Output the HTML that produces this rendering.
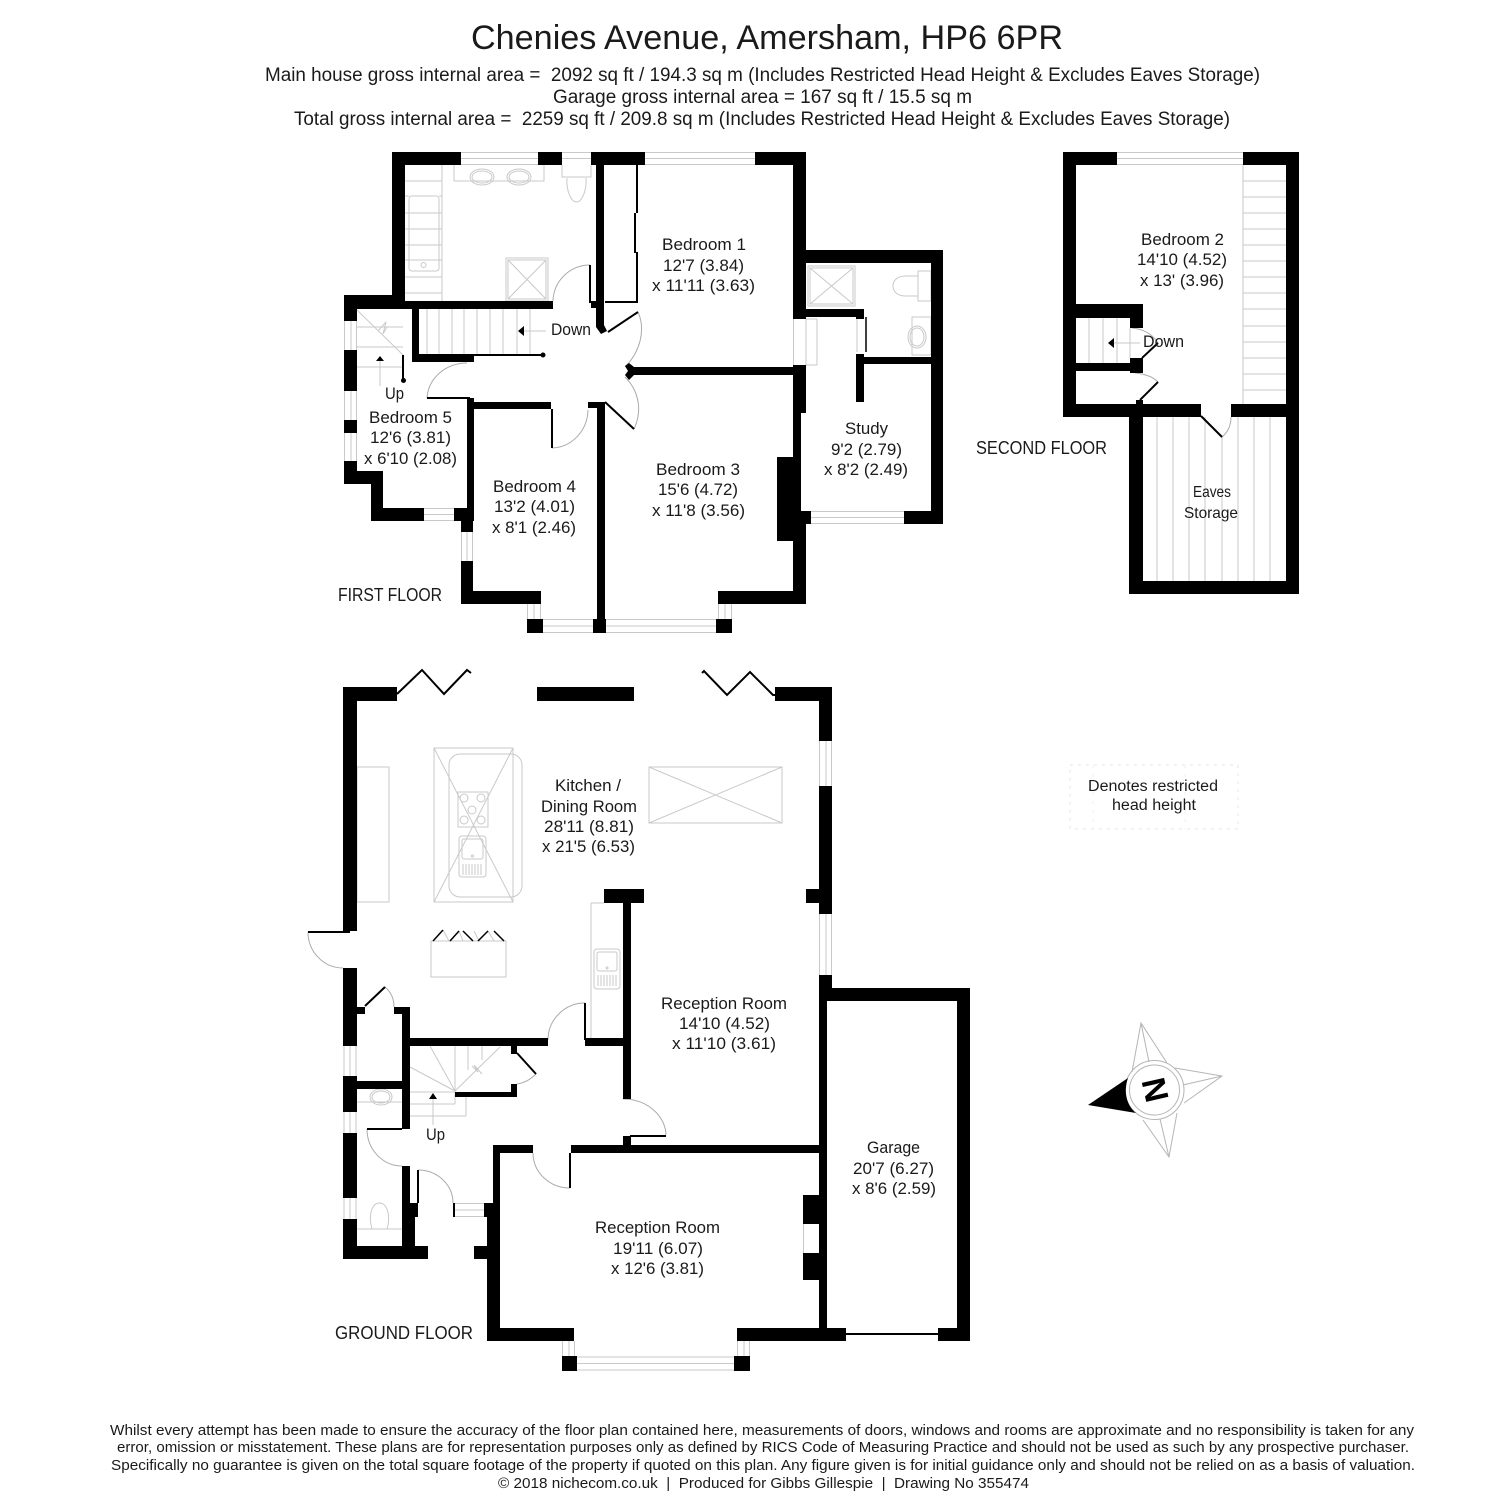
<!DOCTYPE html>
<html lang="en"><head><meta charset="utf-8"><title>Chenies Avenue, Amersham, HP6 6PR</title>
<style>
html,body{margin:0;padding:0;background:#fff}
svg{display:block}
text{font-family:"Liberation Sans",sans-serif;fill:#1a1a1a;text-anchor:middle;font-size:16.5px}
.f{fill:none;stroke:#c9c9c9;stroke-width:1}
.a{fill:none;stroke:#ababab;stroke-width:1}
.l{fill:none;stroke:#000;stroke-width:2}
</style></head><body>
<svg xmlns="http://www.w3.org/2000/svg" width="1500" height="1500" viewBox="0 0 1500 1500">
<rect width="1500" height="1500" fill="#fff"/>

<!-- Header -->
<text x="767" y="49" style="font-size:34px" textLength="592" lengthAdjust="spacingAndGlyphs">Chenies Avenue, Amersham, HP6 6PR</text>
<text x="762.5" y="81" style="font-size:19px" textLength="995" lengthAdjust="spacingAndGlyphs">Main house gross internal area =&#160; 2092 sq ft / 194.3 sq m (Includes Restricted Head Height &amp; Excludes Eaves Storage)</text>
<text x="762.5" y="103" style="font-size:19px" textLength="419" lengthAdjust="spacingAndGlyphs">Garage gross internal area = 167 sq ft / 15.5 sq m</text>
<text x="762" y="125" style="font-size:19px" textLength="936" lengthAdjust="spacingAndGlyphs">Total gross internal area =&#160; 2259 sq ft / 209.8 sq m (Includes Restricted Head Height &amp; Excludes Eaves Storage)</text>

<!-- Light fixture / window lines -->
<g class="f">
<!-- First floor windows -->
<path d="M461 152.500H538M461 158.500H538M461 164.500H538M562 152.500H591M562 158.500H591M645 152.500H755M645 158.500H755M645 164.500H755"/>
<path d="M344.500 321V350M351 321V350M356.500 321V350M344.500 391V420M351 391V420M356.500 391V420M344.500 433V461M351 433V461M356.500 433V461"/>
<path d="M424 508.500H454M424 514.500H454M424 520.500H454M461.500 532V561M467 532V561M472.500 532V561"/>
<path d="M527.500 604V619M534 604V619M540.500 604V619M543 619.500H593M543 626H593M543 632.500H593"/>
<path d="M606 619.500H716M606 626H716M606 632.500H716M718.500 604V619M725 604V619M731.500 604V619"/>
<path d="M811 511.500H904M811 517.500H904M811 523.500H904"/>
<path d="M793.500 319V365M806 319V365M817 319V365M806 319H817M806 365H817M857 319V352"/>
<!-- Bathroom -->
<path d="M454 165V181H544V165M562 165V177H591V165"/>
<ellipse cx="482" cy="177" rx="12" ry="8"/><ellipse cx="482" cy="177" rx="10" ry="6"/>
<ellipse cx="519" cy="177" rx="12" ry="8"/><ellipse cx="519" cy="177" rx="10" ry="6"/>
<path d="M567 178C566 190 571 202 576.500 202C582 202 587 190 586 178"/>
<path d="M442 165V301M405 181H442M405 196H409M439 196H442M405 213H442M405 229H442M405 245H442M405 260H442M405 277H442M405 293H442"/>
<rect x="409" y="196" width="30" height="75" rx="3"/><circle cx="423.500" cy="265" r="2.500"/>
<rect x="506" y="258" width="42" height="43"/><rect x="508" y="260" width="38" height="39"/>
<path d="M508 260L546 299M546 260L508 299"/>
<!-- First floor stairs -->
<path d="M427 309V354M439 309V354M452 309V354M464 309V354M477 309V354M490 309V354M503 309V354M517 309V354M530 309V354M524 331H546"/>
<path d="M357 310L403 355M357 327H403M357 347H403M357 367H403M380 361V386"/>
<path d="M378 331L386 322L383 334L387 327" />
<!-- En-suite -->
<rect x="808" y="266" width="47" height="40"/><rect x="810" y="268" width="43" height="36"/><path d="M810 268L853 304M853 268L810 304"/>
<rect x="918" y="271" width="13" height="30"/><path d="M918 276H905C897 276 893 281 893 286C893 291 897 296 905 296H918"/>
<rect x="912" y="317" width="19" height="38"/><ellipse cx="917" cy="337" rx="9" ry="11"/><ellipse cx="917" cy="337" rx="7" ry="9"/>
<!-- Second floor -->
<path d="M1117 152.500H1243M1117 158.500H1243M1117 164.500H1243"/>
<path d="M1243 165V404M1243 181H1286M1243 197H1286M1243 213H1286M1243 229H1286M1243 245H1286M1243 261H1286M1243 277H1286M1243 293H1286M1243 309H1286M1243 326H1286M1243 342H1286M1243 358H1286M1243 374H1286M1243 390H1286"/>
<path d="M1157 417V581M1173 417V581M1189 417V581M1205 417V581M1222 437V581M1238 417V581M1254 417V581M1270 417V581"/>
<path d="M1089 318V363M1103 318V363M1117 318V363M1130 328V358M1114 343H1140"/>
<!-- Ground floor windows -->
<path d="M819.500 741V786M826 741V786M831.500 741V786M819.500 914V975M826 914V975M831.500 914V975"/>
<path d="M344 1046V1076M350 1046V1076M356 1046V1076M344 1112V1133M350 1112V1133M356 1112V1133M344 1198V1219M350 1198V1219M356 1198V1219"/>
<path d="M455 1203.500H484M455 1210H484M455 1216.500H484"/>
<path d="M562.500 1341V1356M569 1341V1356M574.500 1341V1356M737.500 1341V1356M744 1341V1356M749.500 1341V1356"/>
<path d="M577 1357H734M577 1363.500H734M577 1370H734M803.500 1224V1253"/>
<!-- Kitchen -->
<rect x="357" y="767" width="32" height="135"/>
<rect x="434" y="748" width="79" height="154"/><path d="M434 748L513 902M513 748L434 902"/>
<rect x="449" y="754" width="73" height="143" rx="11"/>
<rect x="458" y="792" width="30" height="35"/>
<circle cx="464" cy="798" r="4"/><circle cx="481" cy="798" r="4"/><circle cx="472" cy="810" r="4"/><circle cx="464" cy="820" r="4"/><circle cx="481" cy="820" r="4"/>
<rect x="459" y="836" width="27" height="41" rx="3"/><rect x="462" y="839" width="21" height="20" rx="2"/><circle cx="472.500" cy="856" r="1"/><path d="M463 864V875M466 864V875M469 864V875M472 864V875M475 864V875M478 864V875M481 864V875"/>
<rect x="431" y="941" width="75" height="36"/>
<path d="M443 930L449 941M459 931L463 941M474 931L479 941M488 931L494 941"/>
<rect x="649" y="767" width="133" height="56"/><path d="M649 767L782 823M782 767L649 823"/>
<path d="M591 903V1038M591 903H604"/>
<rect x="594" y="949" width="26" height="40" rx="3"/><rect x="597" y="952" width="20" height="19" rx="2"/><circle cx="607" cy="968" r="1"/><path d="M598 975V986M601 975V986M604 975V986M607 975V986M610 975V986M613 975V986M616 975V986"/>
<!-- Ground floor stairs -->
<path d="M455 1091L430 1046M455 1091L410 1067M455 1091L500 1047M468 1046V1070M482 1046V1060M455 1046V1104M410 1092H455M410 1104H455M410 1116H466M466 1097V1116M433 1099V1125"/>
<path d="M472 1066L478 1072L474 1065L482 1074"/>
<path d="M357 1102H402"/><ellipse cx="381" cy="1097" rx="11" ry="8"/><ellipse cx="381" cy="1097" rx="9" ry="6"/>
<path d="M372 1229C368 1215 372 1203 379.500 1203C387 1203 391 1215 387 1229M357 1229H402"/>
</g>

<!-- Restricted head height legend -->
<rect x="1070" y="765" width="168" height="64" fill="none" stroke="#e6e6e6" stroke-width="1" stroke-dasharray="3 5"/>
<path d="M1093 765V829M1185 765V829" fill="none" stroke="#efefef" stroke-width="1" stroke-dasharray="3 6"/>

<!-- Door arcs -->
<g class="a">
<path d="M590 265A37 37 0 0 0 553 301"/>
<path d="M638 312C646 330 640 352 625 367"/>
<path d="M625 377C640 392 642 412 634 429"/>
<path d="M427 398A40 37 0 0 1 467 363"/>
<path d="M552 448A37 39 0 0 0 588 410"/>
<path d="M1158 343C1152 333 1142 329 1132 328"/>
<path d="M1158 382C1152 376 1144 374 1135 373"/>
<path d="M1222 437C1228 432 1231 425 1231 417"/>
<path d="M308 932A35 36 0 0 0 343 968"/>
<path d="M385 987C391 992 394 999 394 1007"/>
<path d="M585 1003A37 37 0 0 0 548 1040"/>
<path d="M623 1099A43 37 0 0 1 666 1135"/>
<path d="M536 1074C530 1080 524 1083 517 1084"/>
<path d="M367 1129A35 37 0 0 0 402 1166"/>
<path d="M418 1170A35 33 0 0 1 453 1203"/>
<path d="M533 1153A37 35 0 0 0 570 1188"/>
</g>

<!-- Door leaves -->
<g class="l">
<path d="M590 265V303M608 332L638 312M605 402L634 429M427 398H470M552 409V448"/>
<path d="M637 165V213M635 213V253M637 252V302M605 302H638"/>
<path d="M474 355H543M403 355V380"/>
<path d="M866 317V352" stroke-width="1.500"/>
<path d="M1142 358L1158 343M1140 400L1158 382M1201 416L1222 437"/>
<path d="M397 694L422 670L444 694L467 670L471 673M702 673L704 671L727 695L750 672L773 695H775"/>
<path d="M308 932H350M365 1006L385 987M585 1003V1040M517 1053L536 1074M630 1136H666M367 1129H402M418 1170V1203M570 1153V1188M846 1334H938"/>
<path d="M433 941L443 930M450 941L459 931M463 931L473 941M478 941L488 931M494 931L504 941" stroke-width="1.500"/>
</g>
<circle cx="543" cy="355" r="2.500"/><circle cx="403.500" cy="380.500" r="2.500"/>

<!-- Walls: first floor -->
<path fill="#000" d="M392 152H461V165H392ZM538 152H562V165H538ZM591 152H645V165H591ZM755 152H806V165H755Z
M392 152H405V309H392ZM344 295H405V309H344ZM405 301H553V309H405ZM344 295H357V321H344ZM344 350H357V391H344ZM344 420H357V433H344ZM344 461H357V484H344ZM344 471H383V484H344ZM371 471H383V521H371ZM371 508H424V521H371ZM454 508H474V521H454ZM461 508H473V532H461ZM461 561H473V604H461ZM461 591H541V604H461ZM527 619H543V633H527ZM593 619H606V633H593ZM716 619H732V633H716ZM718 591H806V604H718Z
M793 152H806V319H793ZM793 365H806V413H793ZM793 413H801V457H793ZM777 457H801V541H777ZM793 524H806V604H793ZM793 511H811V524H793ZM633 367H793V375H633Z
M596 165H604V325L607 331L601 334L596 327ZM591 301H596V308H591ZM412 309H419V362H412ZM412 354H474V362H412ZM467 398H474V508H467ZM467 402H551V409H467ZM597 402H605V619H597ZM588 402H597V408H588Z
M625 366L629 363L634 367V375L629 380L625 375L628 371Z
M806 250H943V263H806ZM931 250H943V524H931ZM904 511H943V524H904ZM806 309H864V317H806ZM856 309H864V319H856ZM856 357H931V364H856ZM856 354H864V402H856Z"/>

<!-- Walls: second floor -->
<path fill="#000" d="M1063 152H1117V165H1063ZM1243 152H1299V165H1243ZM1286 152H1299V594H1286ZM1063 152H1076V417H1063ZM1063 404H1201V417H1063ZM1231 404H1299V417H1231ZM1129 404H1143V594H1129ZM1129 581H1299V594H1129ZM1076 304H1143V318H1076ZM1130 318H1143V328H1130ZM1130 358H1143V373H1130ZM1076 363H1130V371H1076ZM1136 400H1143V404H1136Z"/>
<path fill="#000" d="M524 326V336L518 331ZM1114 338V348L1108 343ZM380 356L384 361H376ZM433 1093L437 1099H429Z"/>

<!-- Walls: ground floor -->
<path fill="#000" d="M343 687H397V701H343ZM343 687H357V931H343ZM537 687H634V701H537ZM775 687H832V701H775ZM819 687H832V741H819ZM819 786H832V914H819ZM806 889H819V903H806ZM819 975H832V1001H819ZM819 988H970V1001H819ZM957 988H970V1341H957ZM819 1001H827V1341H819ZM938 1328H970V1341H938ZM737 1328H846V1341H737ZM487 1328H574V1341H487ZM562 1356H577V1371H562ZM734 1356H750V1371H734Z
M493 1145H500V1203H493ZM493 1145H533V1153H493ZM571 1145H819V1153H571ZM484 1203H500V1217H484ZM487 1217H500V1341H487ZM474 1246H487V1259H474ZM803 1195H819V1224H803ZM803 1253H819V1280H803Z
M604 889H644V903H604ZM623 903H631V1099H623ZM585 1038H623V1046H585ZM410 1038H548V1046H410ZM343 968H357V1046H343ZM343 1076H357V1112H343ZM343 1133H357V1198H343ZM343 1219H357V1259H343ZM343 1246H428V1259H343ZM357 1007H365V1014H357ZM394 1007H410V1014H394ZM402 1007H410V1129H402ZM357 1081H402V1089H357ZM402 1166H410V1246H402ZM410 1203H418V1217H410ZM402 1217H415V1246H402ZM511 1046H517V1054H511ZM511 1084H517V1097H511ZM455 1092H517V1097H455ZM623 1136H631V1145H623ZM453 1203H455V1217H453Z"/>

<!-- Compass -->
<g fill="none" stroke="#b5b5b5" stroke-width="1">
<path d="M1132 1072L1141 1023L1167 1063M1141 1023L1149 1062"/>
<path d="M1175 1068L1222 1076L1184 1103M1222 1076L1183 1085"/>
<path d="M1177 1113L1169 1157L1143 1120M1169 1157L1160 1119"/>
<circle cx="1154.500" cy="1090" r="29.500"/><circle cx="1154.500" cy="1090" r="25"/>
</g>
<path fill="#000" d="M1088 1105L1128 1078C1123 1092 1127 1106 1136 1113Z"/>
<text x="1154.500" y="1102" transform="rotate(-103 1154.500 1090)" style="font-size:33px;font-weight:bold;fill:#000">N</text>

<!-- Room labels -->
<text x="704" y="250" textLength="84" lengthAdjust="spacingAndGlyphs">Bedroom 1</text>
<text x="703.500" y="271" textLength="81" lengthAdjust="spacingAndGlyphs">12'7 (3.84)</text>
<text x="703.500" y="291" textLength="103" lengthAdjust="spacingAndGlyphs">x 11'11 (3.63)</text>
<text x="698" y="475" textLength="84" lengthAdjust="spacingAndGlyphs">Bedroom 3</text>
<text x="698" y="495" textLength="80" lengthAdjust="spacingAndGlyphs">15'6 (4.72)</text>
<text x="698.500" y="516" textLength="93" lengthAdjust="spacingAndGlyphs">x 11'8 (3.56)</text>
<text x="866.500" y="434" textLength="43" lengthAdjust="spacingAndGlyphs">Study</text>
<text x="866.500" y="455" textLength="71" lengthAdjust="spacingAndGlyphs">9'2 (2.79)</text>
<text x="866" y="475" textLength="84" lengthAdjust="spacingAndGlyphs">x 8'2 (2.49)</text>
<text x="410.500" y="423" textLength="83" lengthAdjust="spacingAndGlyphs">Bedroom 5</text>
<text x="410.500" y="443" textLength="81" lengthAdjust="spacingAndGlyphs">12'6 (3.81)</text>
<text x="410.500" y="464" textLength="93" lengthAdjust="spacingAndGlyphs">x 6'10 (2.08)</text>
<text x="534.500" y="492" textLength="83" lengthAdjust="spacingAndGlyphs">Bedroom 4</text>
<text x="534.500" y="512" textLength="81" lengthAdjust="spacingAndGlyphs">13'2 (4.01)</text>
<text x="534" y="533" textLength="84" lengthAdjust="spacingAndGlyphs">x 8'1 (2.46)</text>
<text x="390" y="601" style="font-size:18px" textLength="104" lengthAdjust="spacingAndGlyphs">FIRST FLOOR</text>
<text x="394.500" y="399" textLength="19" lengthAdjust="spacingAndGlyphs">Up</text>
<text x="571" y="335" textLength="40" lengthAdjust="spacingAndGlyphs">Down</text>
<text x="1182.500" y="245" textLength="83" lengthAdjust="spacingAndGlyphs">Bedroom 2</text>
<text x="1182" y="265" textLength="90" lengthAdjust="spacingAndGlyphs">14'10 (4.52)</text>
<text x="1182" y="286" textLength="84" lengthAdjust="spacingAndGlyphs">x 13' (3.96)</text>
<text x="1163.500" y="347" textLength="41" lengthAdjust="spacingAndGlyphs">Down</text>
<text x="1212" y="497" style="font-size:16px" textLength="38" lengthAdjust="spacingAndGlyphs">Eaves</text>
<text x="1211" y="518" style="font-size:16px" textLength="54" lengthAdjust="spacingAndGlyphs">Storage</text>
<text x="1041.500" y="454" style="font-size:18px" textLength="131" lengthAdjust="spacingAndGlyphs">SECOND FLOOR</text>
<text x="588" y="791" textLength="66" lengthAdjust="spacingAndGlyphs">Kitchen /</text>
<text x="589" y="812" textLength="96" lengthAdjust="spacingAndGlyphs">Dining Room</text>
<text x="589" y="832" textLength="90" lengthAdjust="spacingAndGlyphs">28'11 (8.81)</text>
<text x="588.500" y="852" textLength="93" lengthAdjust="spacingAndGlyphs">x 21'5 (6.53)</text>
<text x="724" y="1009" textLength="126" lengthAdjust="spacingAndGlyphs">Reception Room</text>
<text x="724.500" y="1029" textLength="91" lengthAdjust="spacingAndGlyphs">14'10 (4.52)</text>
<text x="724" y="1049" textLength="104" lengthAdjust="spacingAndGlyphs">x 11'10 (3.61)</text>
<text x="657.500" y="1233" textLength="125" lengthAdjust="spacingAndGlyphs">Reception Room</text>
<text x="658" y="1254" textLength="90" lengthAdjust="spacingAndGlyphs">19'11 (6.07)</text>
<text x="657.500" y="1274" textLength="93" lengthAdjust="spacingAndGlyphs">x 12'6 (3.81)</text>
<text x="893.500" y="1153" textLength="53" lengthAdjust="spacingAndGlyphs">Garage</text>
<text x="893.500" y="1174" textLength="81" lengthAdjust="spacingAndGlyphs">20'7 (6.27)</text>
<text x="894" y="1194" textLength="84" lengthAdjust="spacingAndGlyphs">x 8'6 (2.59)</text>
<text x="404" y="1339" style="font-size:18px" textLength="138" lengthAdjust="spacingAndGlyphs">GROUND FLOOR</text>
<text x="435.500" y="1140" textLength="19" lengthAdjust="spacingAndGlyphs">Up</text>
<text x="1153" y="791" style="font-size:15.500px" textLength="130" lengthAdjust="spacingAndGlyphs">Denotes restricted</text>
<text x="1154" y="810" style="font-size:15.500px" textLength="84" lengthAdjust="spacingAndGlyphs">head height</text>

<!-- Footer -->
<text x="762" y="1435" style="font-size:14.500px" textLength="1304" lengthAdjust="spacingAndGlyphs">Whilst every attempt has been made to ensure the accuracy of the floor plan contained here, measurements of doors, windows and rooms are approximate and no responsibility is taken for any</text>
<text x="763" y="1452" style="font-size:14.500px" textLength="1292" lengthAdjust="spacingAndGlyphs">error, omission or misstatement. These plans are for representation purposes only as defined by RICS Code of Measuring Practice and should not be used as such by any prospective purchaser.</text>
<text x="763" y="1470" style="font-size:14.500px" textLength="1304" lengthAdjust="spacingAndGlyphs">Specifically no guarantee is given on the total square footage of the property if quoted on this plan. Any figure given is for initial guidance only and should not be relied on as a basis of valuation.</text>
<text x="763.500" y="1488" style="font-size:14.500px" textLength="531" lengthAdjust="spacingAndGlyphs">© 2018 nichecom.co.uk&#160; |&#160; Produced for Gibbs Gillespie&#160; |&#160; Drawing No 355474</text>
</svg>
</body></html>
